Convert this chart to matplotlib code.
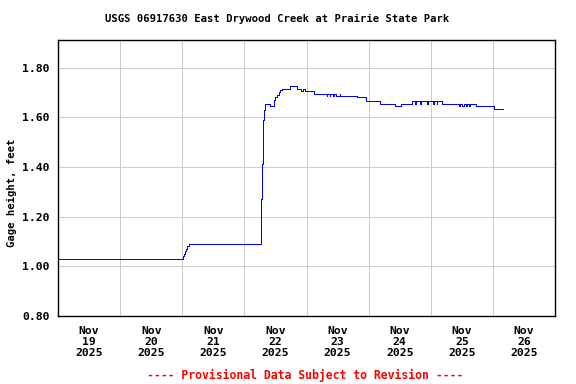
import matplotlib
matplotlib.use("Agg")
import matplotlib.pyplot as plt
import matplotlib.dates as mdates
import pandas as pd

# gage height breakpoints (15-min data, drawn as steps)
times = [
    "2025-11-19 00:00", "2025-11-21 00:15", "2025-11-21 00:30", "2025-11-21 01:00",
    "2025-11-21 01:30", "2025-11-21 02:00", "2025-11-21 02:45", "2025-11-22 06:30",
    "2025-11-22 06:45", "2025-11-22 07:15", "2025-11-22 07:45", "2025-11-22 08:00",
    "2025-11-22 10:00", "2025-11-22 11:30", "2025-11-22 12:00", "2025-11-22 12:30",
    "2025-11-22 13:15", "2025-11-22 13:45", "2025-11-22 14:30", "2025-11-22 17:30",
    "2025-11-22 20:15", "2025-11-22 21:45", "2025-11-22 22:30", "2025-11-22 23:30",
    "2025-11-23 02:45", "2025-11-23 07:45", "2025-11-23 08:00", "2025-11-23 09:00",
    "2025-11-23 09:15", "2025-11-23 10:15", "2025-11-23 10:30", "2025-11-23 11:30",
    "2025-11-23 12:45", "2025-11-23 13:00", "2025-11-23 19:30", "2025-11-23 23:00",
    "2025-11-24 04:30", "2025-11-24 10:15", "2025-11-24 12:30", "2025-11-24 16:45",
    "2025-11-24 18:00", "2025-11-24 18:15", "2025-11-24 20:00", "2025-11-24 20:15",
    "2025-11-24 22:30", "2025-11-24 22:45", "2025-11-25 01:00", "2025-11-25 01:15",
    "2025-11-25 02:15", "2025-11-25 02:30", "2025-11-25 04:15", "2025-11-25 10:45",
    "2025-11-25 11:15", "2025-11-25 12:00", "2025-11-25 12:45", "2025-11-25 13:30",
    "2025-11-25 14:00", "2025-11-25 14:45", "2025-11-25 15:15", "2025-11-25 17:30",
    "2025-11-26 00:30", "2025-11-26 04:00",
]
gage_ft = [
    1.03, 1.04, 1.05, 1.06,
    1.07, 1.08, 1.09, 1.27,
    1.41, 1.59, 1.63, 1.655,
    1.645, 1.67, 1.68, 1.69,
    1.70, 1.71, 1.715, 1.725,
    1.715, 1.705, 1.715, 1.705,
    1.695, 1.687, 1.695, 1.687,
    1.695, 1.687, 1.695, 1.687,
    1.695, 1.687, 1.68, 1.665,
    1.655, 1.645, 1.655, 1.665,
    1.655, 1.665, 1.655, 1.665,
    1.655, 1.665, 1.655, 1.665,
    1.655, 1.665, 1.655, 1.645,
    1.655, 1.645, 1.655, 1.645,
    1.655, 1.645, 1.655, 1.645,
    1.635, 1.635,
]
yticks = [0.80, 1.00, 1.20, 1.40, 1.60, 1.80]

t = pd.to_datetime(times)
mono = "DejaVu Sans Mono"

fig = plt.figure(figsize=(5.76, 3.84), dpi=100)
ax = fig.add_axes([58 / 576, 1 - 316 / 384, 497 / 576, 276 / 384])

ax.plot(t, gage_ft, drawstyle="steps-post", color="#0000ff", lw=0.72, antialiased=False)

ax.set_xlim(pd.Timestamp("2025-11-19"), pd.Timestamp("2025-11-27"))
ax.set_ylim(0.80, 1.911)
ax.set_yticks(yticks)
ax.set_yticklabels([f"{v:.2f}" for v in yticks])

# grid at midnight, labels at noon
ax.xaxis.set_major_locator(mdates.HourLocator(byhour=[12]))
ax.xaxis.set_major_formatter(mdates.DateFormatter("%b\n%d\n%Y"))
ax.xaxis.set_minor_locator(mdates.DayLocator())
ax.grid(True, which="minor", axis="x", color="#cccccc", lw=0.72, antialiased=False)
ax.grid(True, which="major", axis="y", color="#cccccc", lw=0.72, antialiased=False)
ax.set_axisbelow(True)

ax.tick_params(which="both", length=0)
ax.tick_params(axis="y", pad=6)
ax.tick_params(axis="x", pad=7)
for lab in ax.get_xticklabels() + ax.get_yticklabels():
    lab.set_fontfamily(mono)
    lab.set_fontweight("bold")
    lab.set_fontsize(8.2)
for lab in ax.get_xticklabels():
    lab.set_linespacing(1.15)

for s in ax.spines.values():
    s.set_color("black")
    s.set_linewidth(1.0)

fig.text(277.5 / 576, 1 - 19 / 384, "USGS 06917630 East Drywood Creek at Prairie State Park",
         ha="center", va="center", family=mono, weight="bold", fontsize=7.6)
fig.text(12 / 576, 1 - 193 / 384, "Gage height, feet", rotation=90,
         ha="center", va="center", family=mono, weight="bold", fontsize=7.6)
fig.text(305.5 / 576, 1 - 375 / 384, "---- Provisional Data Subject to Revision ----",
         ha="center", va="center", family=mono, weight="bold", fontsize=8.3, color="red")

fig.savefig("out.png", dpi=100)
